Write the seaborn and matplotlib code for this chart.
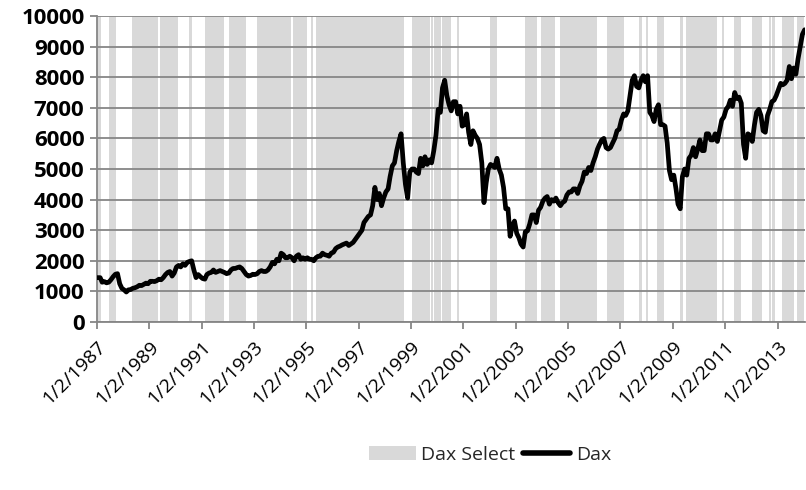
# DAX com períodos "Dax Select" sombreados
import pandas as pd
import matplotlib
matplotlib.use("Agg")
import matplotlib.pyplot as plt
import seaborn as sns
from matplotlib.patches import Patch
from matplotlib.lines import Line2D

sns.set_theme(style="white")
plt.rcParams['font.family'] = ['Open Sans', 'DejaVu Sans']

# Valores mensais do DAX, jan/1987 .. dez/2013
dax_por_ano = {
    1987: [1450, 1300, 1320, 1280, 1300, 1380, 1480, 1560, 1580, 1250, 1100, 1050],
    1988: [980, 1050, 1060, 1100, 1120, 1150, 1200, 1190, 1230, 1270, 1250, 1330],
    1989: [1330, 1320, 1350, 1400, 1380, 1450, 1550, 1620, 1650, 1500, 1600, 1800],
    1990: [1850, 1800, 1900, 1850, 1950, 1980, 2000, 1700, 1450, 1550, 1480, 1420],
    1991: [1400, 1550, 1600, 1620, 1700, 1620, 1650, 1680, 1650, 1620, 1580, 1600],
    1992: [1700, 1750, 1750, 1780, 1800, 1750, 1650, 1550, 1500, 1520, 1560, 1550],
    1993: [1580, 1650, 1680, 1650, 1650, 1700, 1800, 1950, 1900, 2050, 2000, 2250],
    1994: [2200, 2100, 2100, 2150, 2100, 2000, 2150, 2200, 2050, 2100, 2050, 2100],
    1995: [2050, 2050, 2000, 2100, 2150, 2150, 2250, 2200, 2180, 2150, 2250, 2280],
    1996: [2400, 2450, 2480, 2520, 2550, 2580, 2500, 2550, 2600, 2700, 2800, 2900],
    1997: [3000, 3250, 3350, 3450, 3500, 3800, 4400, 4000, 4200, 3800, 4050, 4250],
    1998: [4350, 4750, 5100, 5200, 5600, 5900, 6150, 5200, 4500, 4050, 4900, 5000],
    1999: [5000, 4900, 4850, 5350, 5100, 5400, 5150, 5300, 5200, 5600, 6100, 6950],
    2000: [6850, 7650, 7900, 7400, 7100, 6900, 7200, 7200, 6800, 7050, 6400, 6450],
    2001: [6800, 6200, 5800, 6250, 6100, 6000, 5800, 5200, 3900, 4550, 5000, 5150],
    2002: [5100, 5050, 5350, 5000, 4800, 4400, 3700, 3700, 2800, 3150, 3300, 2900],
    2003: [2750, 2550, 2450, 2950, 2980, 3200, 3500, 3500, 3250, 3650, 3750, 3950],
    2004: [4050, 4100, 3850, 4000, 3950, 4050, 3900, 3800, 3900, 3950, 4150, 4250],
    2005: [4250, 4350, 4350, 4200, 4450, 4600, 4900, 4850, 5050, 4950, 5200, 5400],
    2006: [5650, 5800, 5950, 6000, 5700, 5650, 5700, 5850, 6000, 6250, 6300, 6600],
    2007: [6800, 6750, 6900, 7400, 7900, 8050, 7700, 7650, 7900, 8050, 7850, 8050],
    2008: [6850, 6750, 6550, 6950, 7100, 6450, 6450, 6400, 5850, 4950, 4650, 4800],
    2009: [4350, 3850, 3700, 4750, 5000, 4800, 5350, 5450, 5700, 5400, 5650, 5950],
    2010: [5600, 5600, 6150, 6150, 5950, 5950, 6150, 5900, 6250, 6600, 6700, 6950],
    2011: [7050, 7250, 7050, 7500, 7300, 7350, 7150, 5800, 5350, 6150, 6100, 5900],
    2012: [6450, 6850, 6950, 6750, 6250, 6200, 6750, 6950, 7200, 7250, 7400, 7600],
    2013: [7800, 7750, 7800, 7900, 8350, 7950, 8300, 8100, 8600, 9000, 9400, 9550],
}

# Períodos "Dax Select" (início, fim)
select_inicio = [
    "1987-01-02", "1987-06-13", "1988-05-01", "1989-05-26", "1990-07-12",
    "1991-02-24", "1992-01-16", "1993-02-07", "1994-06-28", "1995-03-11",
    "1995-05-22", "1999-01-09", "1999-10-05", "1999-11-18", "2000-03-14",
    "2000-10-01", "2002-01-02", "2003-05-08", "2003-12-14", "2004-09-16",
    "2006-06-21", "2007-09-17", "2007-12-28", "2008-05-30", "2009-04-06",
    "2009-07-09", "2010-11-25", "2011-05-09", "2012-01-16", "2012-09-06",
    "2012-10-20", "2013-03-01", "2013-10-05",
]
select_fim = [
    "1987-02-28", "1987-09-20", "1989-04-27", "1990-02-10", "1990-08-25",
    "1991-11-06", "1992-09-13", "1994-06-03", "1995-01-16", "1995-04-05",
    "1998-09-27", "1999-09-17", "1999-10-31", "2000-02-21", "2000-07-16",
    "2000-10-27", "2002-04-10", "2003-10-20", "2004-06-28", "2006-02-06",
    "2007-02-21", "2007-11-03", "2008-01-23", "2008-09-02", "2009-05-19",
    "2010-09-06", "2010-12-16", "2011-08-08", "2012-06-03", "2012-09-28",
    "2012-11-22", "2013-08-19", "2014-01-05",
]

tick_labels = ["1/2/1987", "1/2/1989", "1/2/1991", "1/2/1993", "1/2/1995",
               "1/2/1997", "1/2/1999", "1/2/2001", "1/2/2003", "1/2/2005",
               "1/2/2007", "1/2/2009", "1/2/2011", "1/2/2013"]

# Montando o DataFrame
valores = [v for ano in sorted(dax_por_ano) for v in dax_por_ano[ano]]
datas = pd.date_range("1987-01-02", periods=len(valores), freq="MS") + pd.Timedelta(days=14)
datas = datas.insert(0, pd.Timestamp("1987-01-02"))
valores = [valores[0]] + valores
df = pd.DataFrame({"data": datas, "Dax": valores})

fig = plt.figure(figsize=(8.06, 4.90), dpi=100)
ax = fig.add_axes([97 / 806, 1 - 322 / 490, 708 / 806, 306 / 490])

cinza = "#D9D9D9"
for ini, fim in zip(select_inicio, select_fim):
    ax.axvspan(pd.Timestamp(ini), pd.Timestamp(fim), color=cinza, lw=0, zorder=0)

sns.lineplot(data=df, x="data", y="Dax", color="black", linewidth=3.4, ax=ax, zorder=3)

ax.set_xlim(pd.Timestamp("1987-01-02"), pd.Timestamp("2014-01-20"))
ax.set_ylim(0, 10000)
ax.set_yticks(range(0, 10001, 1000))
ax.yaxis.grid(True, color="#868686", linewidth=1.3, zorder=0.5)
ax.set_axisbelow(True)

ticks = pd.to_datetime(tick_labels, format="%m/%d/%Y")
ax.set_xticks(ticks)
ax.set_xticklabels(tick_labels, rotation=45, ha="right", rotation_mode="anchor")

for lado in ["top", "right"]:
    ax.spines[lado].set_visible(False)
for lado in ["left", "bottom"]:
    ax.spines[lado].set_color("#868686")
    ax.spines[lado].set_linewidth(1.3)

ax.tick_params(axis="both", which="major", length=5, width=1.3, color="#868686",
               labelcolor="black", direction="out")
ax.tick_params(axis="x", bottom=True, pad=6, labelsize=14)
ax.tick_params(axis="y", left=True, pad=4, labelsize=16)
for lbl in ax.get_yticklabels():
    lbl.set_fontweight("bold")
ax.set_xlabel("")
ax.set_ylabel("")

# Legenda
handles = [Patch(facecolor=cinza, edgecolor="none", label="Dax Select"),
           Line2D([0], [0], color="black", linewidth=4, label="Dax")]
fig.legend(handles=handles, loc="center", bbox_to_anchor=(490 / 806, 1 - 455 / 490),
           ncol=2, frameon=False, fontsize=14, handlelength=2.4, handletextpad=0.3,
           columnspacing=0.4)

plt.savefig("out.png", dpi=100)
